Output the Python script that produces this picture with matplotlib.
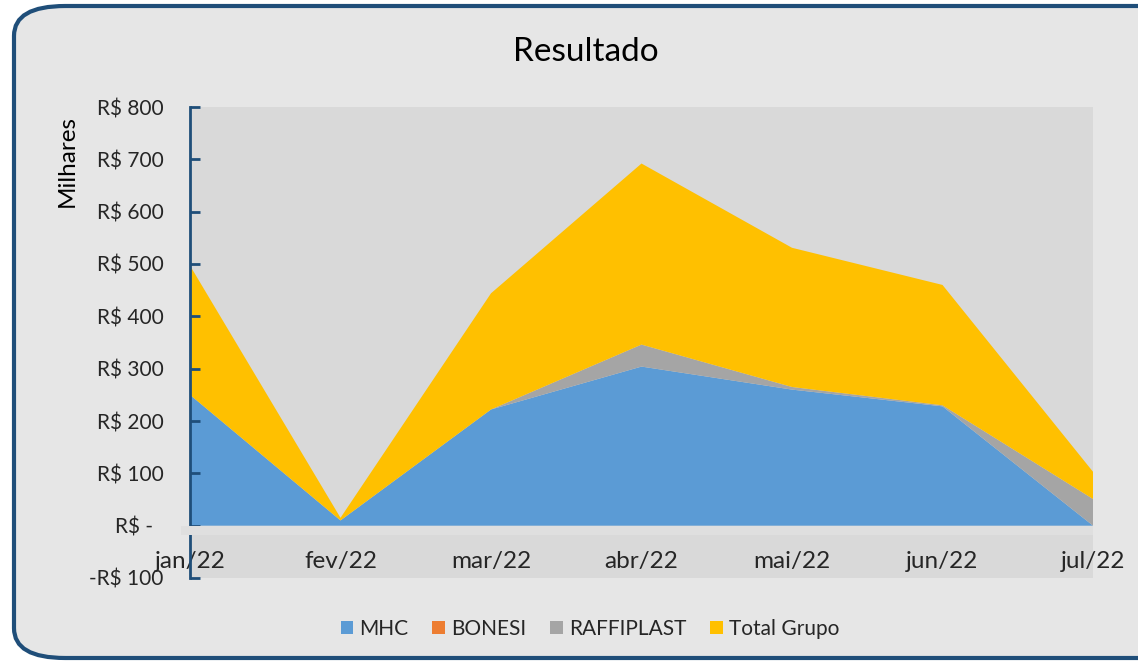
import matplotlib.pyplot as plt
from matplotlib.patches import FancyBboxPatch
from matplotlib.ticker import FuncFormatter

# values in thousands of R$
months = ["jan/22", "fev/22", "mar/22", "abr/22", "mai/22", "jun/22", "jul/22"]
mhc = [250, 10, 222, 304, 260, 228, 0]
bonesi = [0, 0, 0, 0, 0, 0, 0]
raffiplast = [0, 0, 0, 42, 5, 2, 51]
total_grupo = [247, 5, 222, 346, 266, 230, 52]

series_names = ["MHC", "BONESI", "RAFFIPLAST", "Total Grupo"]
colors = ["#5B9BD5", "#ED7D31", "#A5A5A5", "#FFC000"]

plt.rcParams["font.family"] = ["Lato", "DejaVu Sans"]
txt = "#262626"
blue_axis = "#1F4E79"

fig = plt.figure(figsize=(11.38, 6.66), dpi=100, facecolor="white")

# rounded chart frame
frame = FancyBboxPatch((14 / 1138, 8 / 666), 1.2, 652 / 666,
                       boxstyle="round,pad=0,rounding_size=0.045",
                       transform=fig.transFigure, facecolor="#E6E6E6",
                       edgecolor=blue_axis, linewidth=3, mutation_aspect=666 / 1138 * 1.7,
                       zorder=-10)
fig.patches.append(frame)

ax = fig.add_axes([190 / 1138, 1 - 578 / 666, 903 / 1138, 471 / 666])
ax.set_facecolor("#D9D9D9")

x = list(range(len(months)))
ax.stackplot(x, mhc, bonesi, raffiplast, total_grupo, colors=colors,
             labels=series_names, linewidth=0)

ax.set_xlim(0, len(months) - 1)
ax.set_ylim(-100, 800)
ax.set_yticks(range(-100, 801, 100))


def fmt(v, pos):
    if v == 0:
        return "R$ -  "
    if v < 0:
        return "-R$ %d" % abs(v)
    return "R$ %d" % v


ax.yaxis.set_major_formatter(FuncFormatter(fmt))
ax.tick_params(axis="y", direction="in", length=7, width=2, color=blue_axis,
               labelsize=15, labelcolor=txt, pad=19)

ax.set_xticks(x)
ax.set_xticklabels(months)
ax.tick_params(axis="x", length=0, labelsize=17.5, labelcolor=txt, pad=18)

for s in ["top", "right"]:
    ax.spines[s].set_visible(False)
ax.spines["left"].set_color(blue_axis)
ax.spines["left"].set_linewidth(2)
ax.spines["bottom"].set_position(("data", 0))
ax.spines["bottom"].set_visible(False)

# light horizontal axis band just under zero (hides the value axis there)
ax.axhspan(-18, 0, xmin=-0.01, xmax=1, color="#DFDFDF", lw=0, zorder=3, clip_on=False)

fig.text(586 / 1138, 1 - 52 / 666, "Resultado", ha="center", va="center",
         fontsize=24, color="black")
fig.text(67 / 1138, 1 - 161 / 666, "Milhares", ha="center", va="center",
         rotation=90, fontsize=17.5, color="black")

fig.legend(loc="center", bbox_to_anchor=(590 / 1138, 1 - 629 / 666), ncol=4,
           frameon=False, fontsize=15, handlelength=0.6, handleheight=0.6,
           handletextpad=0.3, columnspacing=1.15, labelcolor=txt)

fig.savefig("out.png", dpi=100, facecolor="white")
